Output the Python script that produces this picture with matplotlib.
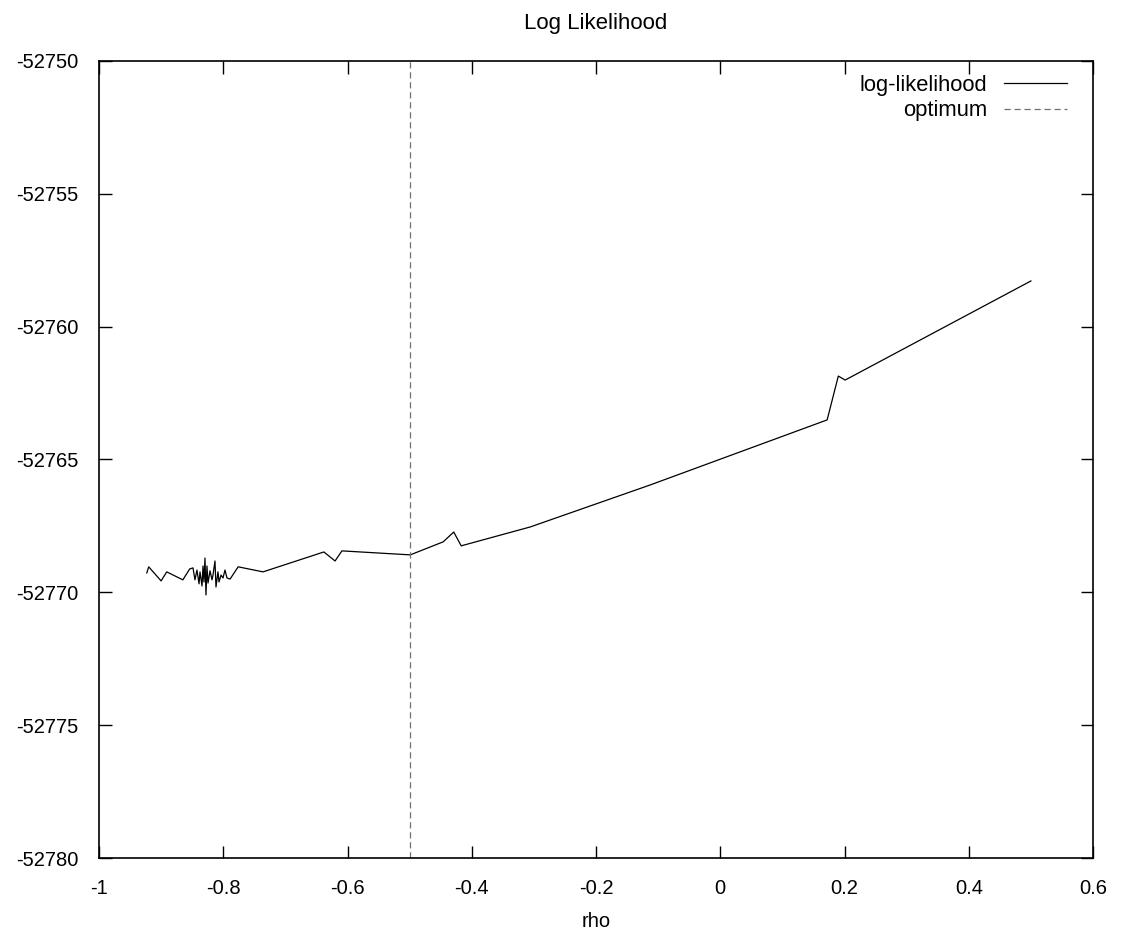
import matplotlib
matplotlib.use('Agg')
import matplotlib.pyplot as plt
import numpy as np

# Log-likelihood curve
rho = [-0.923, -0.920, -0.900, -0.891, -0.865, -0.854,
       -0.8487, -0.8455, -0.8423, -0.8390, -0.8374, -0.8342, -0.8326, -0.8310,
       -0.8294, -0.8278, -0.8262, -0.8245, -0.8213, -0.8181, -0.8165, -0.8133,
       -0.8117, -0.8085, -0.8068, -0.8036, -0.8004, -0.7972, -0.7940,
       -0.789, -0.776, -0.736, -0.638, -0.620, -0.609, -0.499, -0.446,
       -0.429, -0.417, -0.306, -0.113, 0.172, 0.190, 0.201, 0.500]
loglik = [-52769.27, -52769.04, -52769.57, -52769.23, -52769.53, -52769.12,
          -52769.08, -52769.53, -52769.16, -52769.68, -52769.23, -52769.76,
          -52769.01, -52769.61, -52768.71, -52770.10, -52769.01, -52769.65,
          -52769.19, -52769.53, -52769.35, -52768.82, -52769.80, -52769.23,
          -52769.61, -52769.35, -52769.46, -52769.16, -52769.46,
          -52769.50, -52769.04, -52769.23, -52768.48, -52768.82, -52768.44,
          -52768.59, -52768.10, -52767.73, -52768.25, -52767.54, -52765.96,
          -52763.51, -52761.86, -52762.01, -52758.28]
rho_opt = -0.5

x_ticks = [-1, -0.8, -0.6, -0.4, -0.2, 0, 0.2, 0.4, 0.6]
x_labels = ['-1', '-0.8', '-0.6', '-0.4', '-0.2', '0', '0.2', '0.4', '0.6']
y_ticks = [-52780, -52775, -52770, -52765, -52760, -52755, -52750]

plt.rcParams['font.family'] = ['Liberation Sans', 'DejaVu Sans']
plt.rcParams['font.size'] = 14.5

fig = plt.figure(figsize=(11.3, 9.44), dpi=100)
ax = fig.add_axes([0.0876, 0.0911, 0.8797, 0.8443])

ax.plot(rho, loglik, color='black', linewidth=0.9, label='log-likelihood')
ax.axvline(rho_opt, color='#707070', linewidth=0.9, linestyle=(0, (5, 3)),
           label='optimum')

ax.set_xlim(-1, 0.6)
ax.set_ylim(-52780, -52750)
ax.set_xticks(x_ticks)
ax.set_xticklabels(x_labels)
ax.set_yticks(y_ticks)
ax.set_yticklabels([str(v) for v in y_ticks])
ax.tick_params(direction='in', length=9, width=1, top=True, right=True)
ax.tick_params(axis='y', pad=15)
ax.tick_params(axis='x', pad=15)
for s in ax.spines.values():
    s.set_linewidth(1.2)

ax.set_title('Log Likelihood', pad=23, fontsize=16)
ax.set_xlabel('rho', labelpad=10)

ax.legend(loc='upper right', bbox_to_anchor=(1, 1.015), frameon=False,
          markerfirst=False, fontsize=15.8, handlelength=2.9,
          handletextpad=0.73, labelspacing=0.2, borderaxespad=0.78)

plt.savefig('out.png', dpi=100)
